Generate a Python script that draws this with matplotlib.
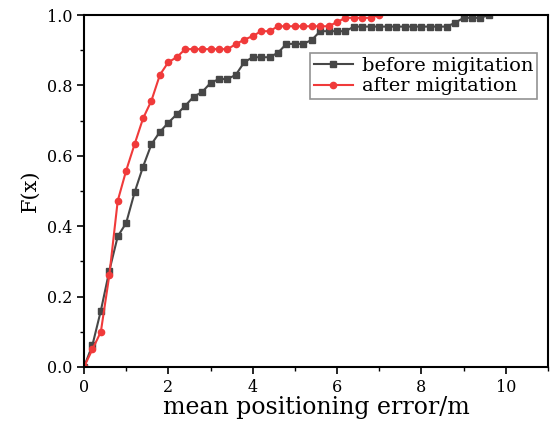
import numpy as np
import matplotlib
matplotlib.use('Agg')
import matplotlib.pyplot as plt
from matplotlib.ticker import MultipleLocator

plt.rcParams['font.family'] = ['DejaVu Serif']

x_before = [0.2 * k for k in range(49)]
y_before = [0.0, 0.062, 0.16, 0.273, 0.371, 0.409, 0.496, 0.569, 0.633, 0.668,
            0.694, 0.718, 0.742, 0.768, 0.781, 0.807, 0.818, 0.818, 0.83, 0.866,
            0.88, 0.88, 0.88, 0.893, 0.918, 0.918, 0.918, 0.929, 0.954, 0.954,
            0.954, 0.954, 0.967, 0.967, 0.967, 0.967, 0.967, 0.967, 0.967, 0.967,
            0.967, 0.967, 0.967, 0.967, 0.978, 0.992, 0.992, 0.992, 1.0]

x_after = [0.2 * k for k in range(36)]
y_after = [0.0, 0.05, 0.1, 0.26, 0.472, 0.558, 0.633, 0.706, 0.757, 0.83,
           0.866, 0.88, 0.903, 0.903, 0.903, 0.903, 0.903, 0.903, 0.917, 0.93,
           0.94, 0.954, 0.954, 0.968, 0.968, 0.968, 0.968, 0.968, 0.968, 0.968,
           0.98, 0.992, 0.992, 0.992, 0.992, 1.0]

fig = plt.figure(figsize=(5.58, 4.25), dpi=100)
ax = fig.add_axes([0.1505, 0.1365, 0.8315, 0.8282])

ax.plot(x_before, y_before, color='#474747', marker='s', markersize=4,
        linewidth=1.5, label='before migitation', clip_on=True)
ax.plot(x_after, y_after, color='#f03a3a', marker='o', markersize=4.5,
        linewidth=1.5, label='after migitation', clip_on=True)

ax.set_xlim(0, 11)
ax.set_ylim(0, 1.0)
ax.xaxis.set_major_locator(MultipleLocator(2))
ax.xaxis.set_minor_locator(MultipleLocator(1))
ax.yaxis.set_major_locator(MultipleLocator(0.2))
ax.yaxis.set_minor_locator(MultipleLocator(0.1))
ax.yaxis.set_major_formatter(plt.FormatStrFormatter('%.1f'))
ax.tick_params(which='major', direction='out', length=5, width=1.2, labelsize=11.5)
ax.tick_params(which='minor', direction='out', length=3, width=1.0)
for s in ax.spines.values():
    s.set_linewidth(1.5)

ax.set_xlabel('mean positioning error/m', fontsize=17, labelpad=0)
ax.set_ylabel('F(x)', fontsize=15, labelpad=5)

leg = ax.legend(loc='upper right', bbox_to_anchor=(0.977, 0.892), fontsize=14,
                frameon=True, fancybox=False, borderpad=0.18, handlelength=2.0,
                labelspacing=0.15, handletextpad=0.5, borderaxespad=0)
leg.get_frame().set_edgecolor('#777777')
leg.get_frame().set_linewidth(1.2)

fig.savefig('out.png', dpi=100)
